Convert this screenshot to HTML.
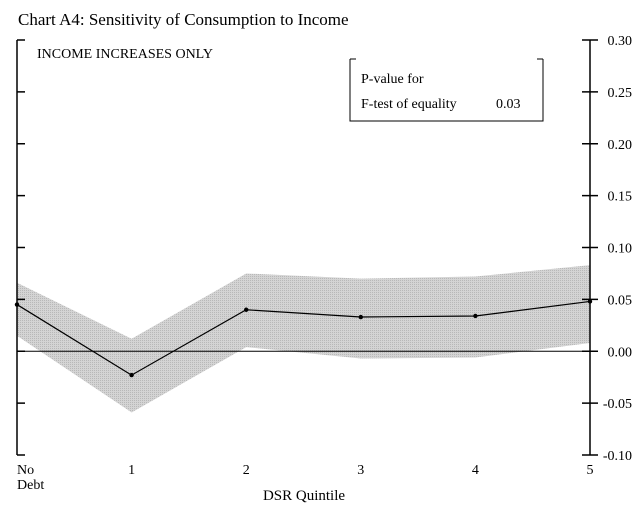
<!DOCTYPE html>
<html><head><meta charset="utf-8"><style>
body{margin:0;background:#fff;width:642px;height:511px;overflow:hidden}
svg{font-family:"Liberation Serif",serif}
</style></head><body>
<svg id="chart" width="642" height="511">
<defs><pattern id="dots" width="2" height="2" patternUnits="userSpaceOnUse"><rect width="2" height="2" fill="#d4d4d4"/><rect width="1" height="1" fill="#b8b8b8"/></pattern></defs>
<text x="18" y="25" font-size="17">Chart A4: Sensitivity of Consumption to Income</text>
<text x="37" y="58" font-size="14">INCOME INCREASES ONLY</text>
<g>
<path d="M350 59 V121 H543 V59" fill="none" stroke="#000"/>
<path d="M350 59 h6 M543 59 h-6" stroke="#000"/>
<text x="361" y="83" font-size="14">P-value for</text>
<text x="361" y="108" font-size="14">F-test of equality</text>
<text x="496" y="108" font-size="14">0.03</text>
</g>
<g id="plot"></g>
<text x="17" y="474" font-size="14">No</text>
<text x="17" y="489" font-size="14">Debt</text>
<text x="304" y="500" font-size="15" text-anchor="middle">DSR Quintile</text>
</svg>
<script>
const categories=["No Debt","1","2","3","4","5"];
const estimate=[0.045,-0.023,0.040,0.033,0.034,0.048];
const upper=[0.066,0.012,0.075,0.070,0.072,0.083];
const lower=[0.015,-0.059,0.004,-0.007,-0.006,0.008];
const yTicks=[0.30,0.25,0.20,0.15,0.10,0.05,0.00,-0.05,-0.10];
const xLabels=["","1","2","3","4","5"];
const L=17,R=590,T=40,B=455,ymin=-0.10,ymax=0.30;
const x=i=>L+(R-L)*i/(categories.length-1);
const y=v=>B-(v-ymin)/(ymax-ymin)*(B-T);
const g=document.getElementById('plot');const NS='http://www.w3.org/2000/svg';
function mk(t,a){const e=document.createElementNS(NS,t);for(const k in a)e.setAttribute(k,a[k]);g.appendChild(e);return e;}
let pts=upper.map((v,i)=>x(i)+','+y(v)).concat(lower.map((v,i)=>x(i)+','+y(v)).reverse());
const band=mk('polygon',{points:pts.join(' '),fill:'url(#dots)'});


const zl=mk('line',{x1:L,x2:R,y1:y(0),y2:y(0),stroke:'#000'});


const ln=mk('polyline',{points:estimate.map((v,i)=>x(i)+','+y(v)).join(' '),fill:'none',stroke:'#000','stroke-width':1.2});


estimate.forEach((v,i)=>{const c=mk('circle',{cx:x(i),cy:y(v),r:2.2,fill:'#000'});

});
const ax=mk('path',{d:`M${L} ${T} V${B} M${R} ${T} V${B}`,stroke:'#000','stroke-width':1.5,fill:'none'});


yTicks.forEach(v=>{mk('line',{x1:L,x2:L+8,y1:y(v),y2:y(v),stroke:'#000','stroke-width':1.5});
mk('line',{x1:R-8,x2:R+8,y1:y(v),y2:y(v),stroke:'#000','stroke-width':1.5});
const t=mk('text',{x:632,y:y(v)+5,'font-size':14,'text-anchor':'end'});t.textContent=v.toFixed(2);

});
xLabels.forEach((s,i)=>{if(!s)return;const t=mk('text',{x:x(i),y:474,'font-size':14,'text-anchor':'middle'});t.textContent=s;

});
</script>
</body></html>
